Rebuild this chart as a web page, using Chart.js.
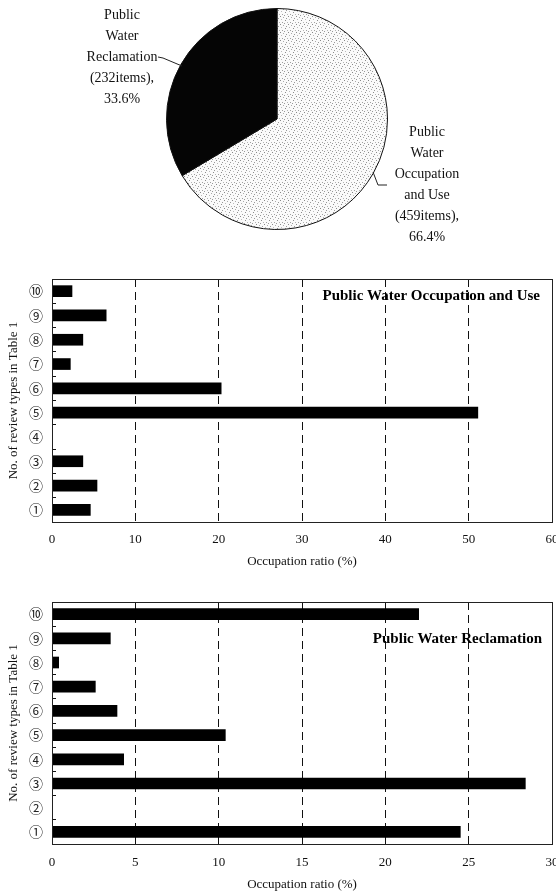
<!DOCTYPE html>
<html lang="en">
<head>
    <meta charset="UTF-8">
    <title>Public Water Occupation Ratio</title>
    <script src="https://cdn.jsdelivr.net/npm/chart.js"></script>
    <style>
        body { margin: 0; background: #fff; }
        .box { position: absolute; left: 0; width: 556px; }
    </style>
</head>
<body>
    <div class="box" style="top:0;height:250px"><canvas id="pieChart" width="556" height="250"></canvas></div>
    <div class="box" style="top:250px;height:325px"><canvas id="useChart" width="556" height="325"></canvas></div>
    <div class="box" style="top:575px;height:319px"><canvas id="recChart" width="556" height="319"></canvas></div>
    <script>
        // pie data
        const pieNames = [['Public', 'Water', 'Occupation', 'and Use'], ['Public', 'Water', 'Reclamation']];
        const pieCounts = [459, 232];
        const pieShares = [66.4, 33.6];

        // bar data, review types 1..10
        const reviewTypes = ['①', '②', '③', '④', '⑤', '⑥', '⑦', '⑧', '⑨', '⑩'];
        const occupationUse = [4.6, 5.4, 3.7, 0, 51.1, 20.3, 2.2, 3.7, 6.5, 2.4];
        const reclamation = [24.5, 0, 28.4, 4.3, 10.4, 3.9, 2.6, 0.4, 3.5, 22.0];
        const useAxis = { max: 60, step: 10 };
        const recAxis = { max: 30, step: 5 };

        Chart.defaults.font.family = "'Liberation Serif', 'Times New Roman', serif";
        Chart.defaults.color = '#111';

        // speckled fill for the bigger slice
        function speckle() {
            const c = document.createElement('canvas');
            c.width = 8; c.height = 8;
            const g = c.getContext('2d');
            g.fillStyle = '#fafafa';
            g.fillRect(0, 0, 8, 8);
            const dots = [[0,0,'#888'],[3,1,'#aaa'],[6,2,'#999'],[1,3,'#bbb'],[5,4,'#8c8c8c'],[2,6,'#a0a0a0'],[7,6,'#b5b5b5'],[4,7,'#999']];
            dots.forEach(d => { g.fillStyle = d[2]; g.fillRect(d[0], d[1], 1, 1); });
            return g.createPattern(c, 'repeat');
        }

        const pieText = {
            id: 'pieText',
            afterDraw(chart) {
                const arc = chart.getDatasetMeta(0).data[0];
                const cx = arc.x, cy = arc.y;
                const ctx = chart.ctx;
                ctx.save();
                ctx.font = "14px 'Liberation Serif', serif";
                ctx.fillStyle = '#111';
                ctx.textAlign = 'center';
                ctx.textBaseline = 'middle';
                const right = pieNames[0].concat(['(' + pieCounts[0] + 'items),', pieShares[0] + '%']);
                const left = pieNames[1].concat(['(' + pieCounts[1] + 'items),', pieShares[1] + '%']);
                left.forEach((t, i) => ctx.fillText(t, cx - 155, cy - 104 + i * 21));
                right.forEach((t, i) => ctx.fillText(t, cx + 150, cy + 13 + i * 21));
                // leader lines
                ctx.strokeStyle = '#222';
                ctx.lineWidth = 1;
                ctx.beginPath();
                ctx.moveTo(cx - 119, cy - 62);
                ctx.lineTo(cx - 114, cy - 61);
                ctx.lineTo(cx - 95, cy - 53);
                ctx.stroke();
                ctx.beginPath();
                ctx.moveTo(cx + 96, cy + 53);
                ctx.lineTo(cx + 101, cy + 66);
                ctx.lineTo(cx + 110, cy + 66);
                ctx.stroke();
                ctx.restore();
            }
        };

        new Chart(document.getElementById('pieChart'), {
            type: 'pie',
            data: {
                labels: ['Public Water Occupation and Use', 'Public Water Reclamation'],
                datasets: [{
                    data: pieCounts,
                    backgroundColor: [speckle(), '#050505'],
                    borderColor: '#111',
                    borderWidth: 1
                }]
            },
            options: {
                responsive: false,
                animation: false,
                layout: { padding: { left: 166, right: 168, top: 8, bottom: 20 } },
                plugins: { legend: { display: false }, tooltip: { enabled: false } }
            },
            plugins: [pieText]
        });

        // box around plot + label inside it
        const frame = {
            id: 'frame',
            afterDraw(chart, args, opts) {
                const a = chart.chartArea;
                const ctx = chart.ctx;
                ctx.save();
                ctx.strokeStyle = '#222';
                ctx.lineWidth = 1;
                ctx.strokeRect(Math.round(a.left) + 0.5, Math.round(a.top) + 0.5,
                    Math.round(a.right - a.left), Math.round(a.bottom - a.top));
                ctx.font = "bold 15px 'Liberation Serif', serif";
                ctx.fillStyle = '#000';
                ctx.textAlign = 'right';
                ctx.textBaseline = 'middle';
                ctx.fillText(opts.text, a.right - opts.dx, a.top + opts.dy);
                ctx.restore();
            }
        };

        function barChart(id, values, axis, label, pad, xH, tickPad, titlePad) {
            new Chart(document.getElementById(id), {
                type: 'bar',
                data: {
                    labels: reviewTypes,
                    datasets: [{
                        data: values,
                        backgroundColor: '#000',
                        barThickness: 11
                    }]
                },
                options: {
                    indexAxis: 'y',
                    responsive: false,
                    animation: false,
                    layout: { padding: { left: 0, right: 4, top: pad, bottom: 0 } },
                    scales: {
                        x: {
                            min: 0,
                            max: axis.max,
                            afterFit(s) { s.height = xH; s.paddingRight = 0; s.paddingLeft = 0; },
                            ticks: { stepSize: axis.step, padding: tickPad, font: { size: 13 }, color: '#111' },
                            grid: { color: '#111', lineWidth: 1, drawTicks: false },
                            border: { color: '#111', dash: [8, 5] },
                            title: {
                                display: true,
                                text: 'Occupation ratio (%)',
                                font: { size: 13 },
                                padding: { top: 0, bottom: titlePad }
                            }
                        },
                        y: {
                            reverse: true,
                            afterFit(s) { s.width = 52; },
                            ticks: {
                                autoSkip: false,
                                padding: 13,
                                font: { family: "'Noto Sans CJK JP', 'DejaVu Sans', sans-serif", size: 14 },
                                color: '#222'
                            },
                            grid: { drawOnChartArea: false, drawTicks: true, tickLength: -4, color: '#111' },
                            border: { color: '#111' },
                            title: {
                                display: true,
                                text: 'No. of review types in Table 1',
                                font: { size: 13 },
                                padding: { top: 6, bottom: 0 }
                            }
                        }
                    },
                    plugins: {
                        legend: { display: false },
                        tooltip: { enabled: false },
                        frame: label
                    }
                },
                plugins: [frame]
            });
        }

        barChart('useChart', occupationUse, useAxis,
            { text: 'Public Water Occupation and Use', dx: 12, dy: 17 }, 29, 53, 10, 5.5);
        barChart('recChart', reclamation, recAxis,
            { text: 'Public Water Reclamation', dx: 10, dy: 37.5 }, 27, 50, 10.5, 2);
    </script>
</body>
</html>
